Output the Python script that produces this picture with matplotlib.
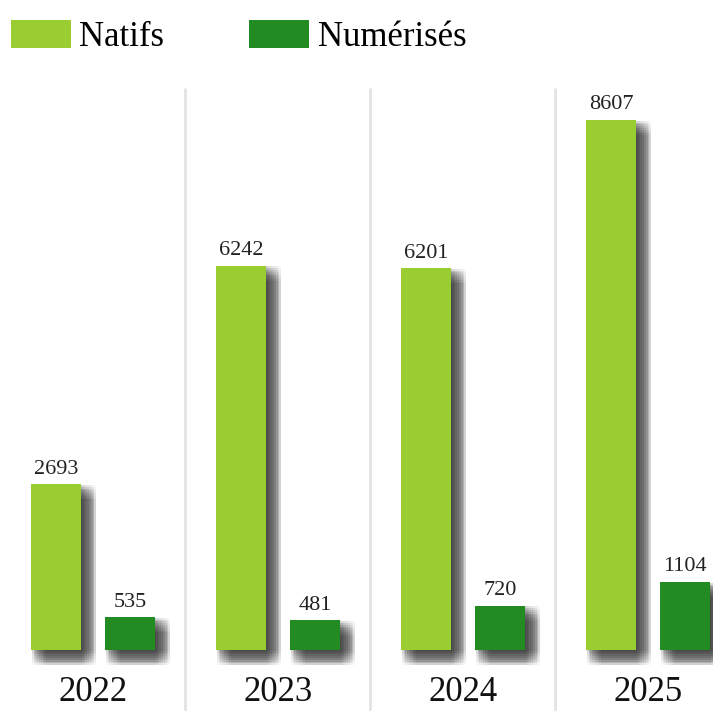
import numpy as np
import matplotlib
matplotlib.use("Agg")
import matplotlib.pyplot as plt
import matplotlib.patheffects as pe

years = ["2022", "2023", "2024", "2025"]
natifs = [2693, 6242, 6201, 8607]
numerises = [535, 481, 720, 1104]
series_names = ["Natifs", "Numérisés"]
colors = ["#9acd32", "#228b22"]

plt.rcParams["font.family"] = ["Liberation Serif", "DejaVu Serif"]

W, H = 713, 711
fig = plt.figure(figsize=(W / 100, H / 100), dpi=100)
# axes: baseline at 650 px from top, top at 88 px
ax = fig.add_axes([0, 61 / H, 1, (650 - 88) / H])
ax.set_xlim(-93 / 185, (W - 93) / 185)
ax.set_ylim(0, 562 / (530 / 8607))
ax.axis("off")

# soft shadow built from a grid of offset copies
shadow = []
for dx in np.linspace(0.5, 11, 9):
    for dy in np.linspace(0.5, 11, 9):
        shadow.append(pe.SimplePatchShadow(offset=(dx, -dy), shadow_rgbFace="#484848", alpha=0.026))
shadow.append(pe.Normal())

x = np.arange(len(years))
w = 50 / 185
off = 37 / 185
handles = []
for vals, dx, col, name in zip([natifs, numerises], [-off, off], colors, series_names):
    bars = ax.bar(x + dx, vals, width=w, color=col, label=name, zorder=3, clip_on=False)
    for b in bars:
        b.set_path_effects(shadow)
    handles.append(bars)
    for xi, v in zip(x + dx, vals):
        ax.annotate(str(v), (xi, v), xytext=(0, 4), textcoords="offset points",
                    ha="center", va="bottom", fontsize=16, color="#222222", zorder=4)

# separators between years
for i in range(len(years) - 1):
    ax.vlines(i + 0.5, -61 / 562 * ax.get_ylim()[1], ax.get_ylim()[1], color="#e3e3e3",
              linewidth=2, clip_on=False, zorder=1)

for xi, yr in zip(x, years):
    ax.annotate(yr, (xi, 0), xytext=(0, -19), textcoords="offset points",
                ha="center", va="top", fontsize=25, color="#111111", annotation_clip=False)

leg = fig.legend([h[0] for h in handles], series_names, loc="upper left",
                 bbox_to_anchor=(-3 / W, 1 - 6 / H), ncol=2, frameon=False,
                 fontsize=25, handlelength=1.73, handleheight=0.86,
                 handletextpad=0.24, columnspacing=2.45, borderaxespad=0)
for p in leg.get_patches():
    p.set_path_effects([pe.Normal()])

fig.savefig("out.png", dpi=100)
